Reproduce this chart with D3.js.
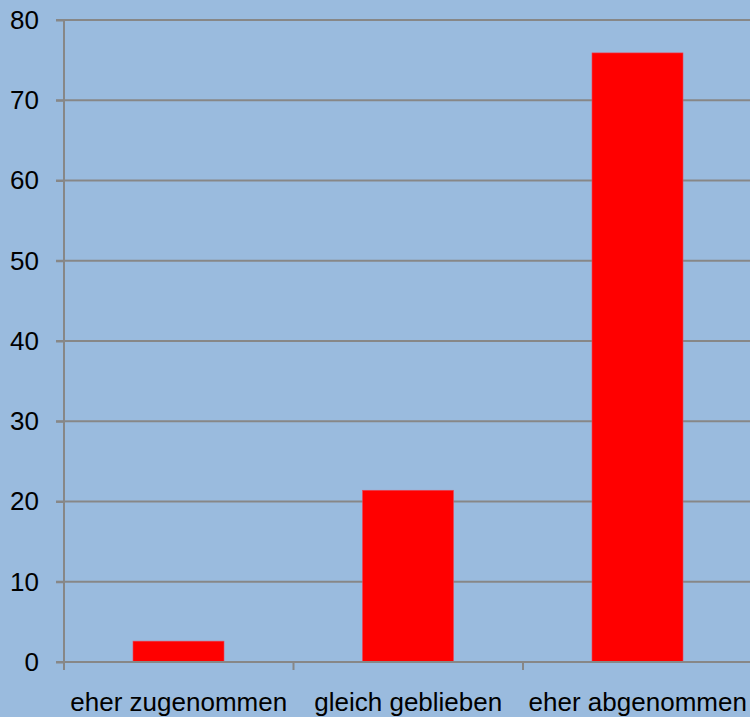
<!DOCTYPE html>
<html>
<head>
<meta charset="utf-8">
<script src="https://cdn.jsdelivr.net/npm/d3@7"></script>
<style>
  html, body { margin: 0; padding: 0; background: #9abbde; }
  svg { display: block; }
</style>
</head>
<body>
<svg id="chart" width="750" height="717"></svg>
<script>
// Categories and their values (percent)
const categories = ["eher zugenommen", "gleich geblieben", "eher abgenommen"];
const values = [2.6, 21.4, 75.9];
const yTicks = [0, 10, 20, 30, 40, 50, 60, 70, 80];

const W = 750, H = 717;
const margin = { left: 64, right: -225, top: 20, bottom: 55 };
const plotLeft = 64, plotRight = 752.5, plotTop = 20, plotBottom = 662;

const svg = d3.select("#chart");
svg.append("rect").attr("width", W).attr("height", H).attr("fill", "#9abbde");

const x = d3.scaleBand().domain(categories).range([plotLeft, plotRight]).paddingInner(0).paddingOuter(0);
const y = d3.scaleLinear().domain([0, 80]).range([plotBottom, plotTop]);

const gridColor = "#878787";
const font = "'Liberation Sans', Arial, sans-serif";

// Horizontal gridlines
svg.append("g").selectAll("line").data(yTicks.filter(d => d > 0)).join("line")
  .attr("x1", plotLeft - 8).attr("x2", W)
  .attr("y1", d => y(d)).attr("y2", d => y(d))
  .attr("stroke", gridColor).attr("stroke-width", 2);

// Y axis
const yAxis = d3.axisLeft(y).tickValues(yTicks).tickSize(8).tickPadding(17).tickFormat(d3.format("d"));
const gy = svg.append("g").attr("transform", `translate(${plotLeft},0)`).call(yAxis);
gy.select(".domain").attr("stroke", gridColor).attr("stroke-width", 2).attr("d", `M0,${plotTop}V${plotBottom}`);
gy.selectAll(".tick line").attr("stroke", gridColor).attr("stroke-width", 2);
gy.selectAll(".tick text").attr("font-family", font).attr("font-size", 26).attr("fill", "#000");

// Bars
svg.append("g").selectAll("rect").data(values).join("rect")
  .attr("x", (d, i) => x(categories[i]) + 69)
  .attr("width", 91)
  .attr("y", d => y(d))
  .attr("height", d => plotBottom - y(d))
  .attr("fill", "#ff0000")
  .attr("stroke", "#e8485a").attr("stroke-width", 0.6);

// X axis line and category boundary ticks
svg.append("line")
  .attr("x1", plotLeft - 8).attr("x2", W)
  .attr("y1", plotBottom).attr("y2", plotBottom)
  .attr("stroke", gridColor).attr("stroke-width", 2);
const bounds = categories.map(c => x(c)).concat([x(categories[2]) + x.bandwidth()]);
svg.append("g").selectAll("line").data(bounds).join("line")
  .attr("x1", d => d).attr("x2", d => d)
  .attr("y1", plotBottom).attr("y2", plotBottom + 8)
  .attr("stroke", gridColor).attr("stroke-width", 2);

// Category labels
svg.append("g").selectAll("text").data(categories).join("text")
  .attr("x", d => x(d) + x.bandwidth() / 2)
  .attr("y", 711)
  .attr("text-anchor", "middle")
  .attr("font-family", font).attr("font-size", 26).attr("fill", "#000")
  .text(d => d);
</script>
</body>
</html>
